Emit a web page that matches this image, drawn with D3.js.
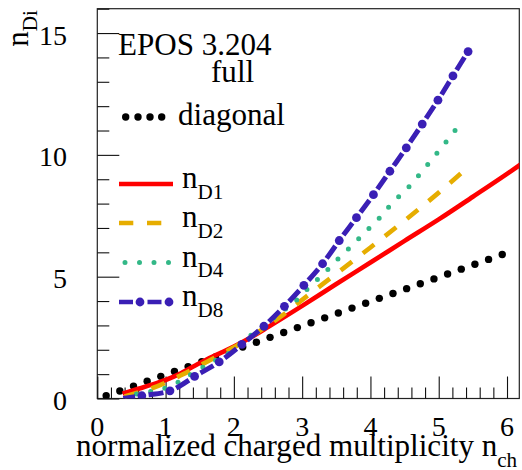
<!DOCTYPE html>
<html>
<head>
<meta charset="utf-8">
<script src="https://cdn.jsdelivr.net/npm/d3@7"></script>
<style>
  html, body { margin: 0; padding: 0; background: #fff; }
  svg { display: block; }
</style>
</head>
<body>
<svg id="chart" width="522" height="470"></svg>
<script>
// Axis ticks
const xMajorTicks = [0, 1, 2, 3, 4, 5, 6];
const yMajorTicks = [0, 5, 10, 15];

// "diagonal" reference points
const diagX = [0.13, 0.33, 0.53, 0.73, 0.93, 1.13, 1.33, 1.53, 1.73, 1.93,
               2.13, 2.33, 2.53, 2.73, 2.93, 3.13, 3.33, 3.53, 3.73, 3.93,
               4.13, 4.33, 4.53, 4.73, 4.93, 5.13, 5.33, 5.53, 5.73, 5.93];
const diagY = [0.11, 0.31, 0.51, 0.71, 0.91, 1.11, 1.31, 1.51, 1.71, 1.91,
               2.11, 2.31, 2.51, 2.71, 2.91, 3.11, 3.31, 3.51, 3.71, 3.91,
               4.11, 4.31, 4.51, 4.71, 4.91, 5.11, 5.31, 5.51, 5.71, 5.91];

// n_D1
const d1X = [0.37, 0.6, 0.8, 1.0, 1.2, 1.4, 1.6, 1.8, 2.0, 2.2, 2.5, 3.0, 3.5, 4.0, 4.5, 5.0, 5.5, 6.0, 6.3];
const d1Y = [0.2, 0.4, 0.57, 0.76, 1.0, 1.3, 1.6, 1.86, 2.13, 2.43, 2.93, 3.8, 4.7, 5.58, 6.47, 7.35, 8.28, 9.22, 9.8];

// n_D2
const d2X = [0.4, 0.6, 0.8, 1.0, 1.2, 1.4, 1.6, 1.8, 2.0, 2.2, 2.5, 2.72, 3.0, 3.5, 4.0, 4.5, 5.0, 5.37];
const d2Y = [0.08, 0.25, 0.42, 0.65, 0.92, 1.2, 1.5, 1.8, 2.1, 2.45, 3.0, 3.43, 4.05, 5.12, 6.2, 7.3, 8.45, 9.35];

// n_D4
const d4X = [0.4, 0.87, 1.08, 1.26, 1.62, 2.0, 2.31, 2.8, 2.96, 3.1, 3.26, 3.41, 3.55, 3.7, 3.85,
             4.0, 4.15, 4.28, 4.43, 4.58, 4.71, 4.84, 4.98, 5.11, 5.24, 5.37];
const d4Y = [0.1, 0.35, 0.51, 0.8, 1.4, 2.0, 2.74, 3.77, 4.15, 4.56, 4.98, 5.39, 5.8, 6.2, 6.62,
             7.04, 7.46, 7.9, 8.33, 8.74, 9.17, 9.61, 10.09, 10.54, 11.0, 11.46];

// n_D8
const d8X = [0.38, 0.67, 1.08, 1.44, 1.8, 2.14, 2.45, 2.75, 3.03, 3.31, 3.55, 3.8,
             4.05, 4.29, 4.53, 4.76, 4.99, 5.21, 5.43];
const d8Y = [0.0, 0.12, 0.33, 0.93, 1.53, 2.27, 2.99, 3.81, 4.66, 5.57, 6.51, 7.44,
             8.39, 9.35, 10.31, 11.27, 12.25, 13.25, 14.24];

const xMax = 6.18, yMax = 16;
const frameL = 97.3, frameR = 519.3, frameT = 8.7, frameB = 398.5;
const serif = "'Liberation Serif', 'Times New Roman', Tinos, 'DejaVu Serif', 'Noto Serif', serif";

const svg = d3.select("#chart").attr("font-family", serif);
const x = d3.scaleLinear().domain([0, xMax]).range([frameL, frameR]);
const y = d3.scaleLinear().domain([0, yMax]).range([frameB, frameT]);

const col = { d1: "#ff0000", d2: "#e6ad00", d4: "#33b887", d8: "#3a1fb5" };

// shrink/grow a text's font size so its main run spans the wanted width
function fit(sel, width) {
  const w = sel.node().getComputedTextLength();
  const f = +sel.attr("font-size");
  const nf = f * width / w;
  sel.attr("font-size", nf);
  return nf / f;
}

// clip region = plotting frame
svg.append("defs").append("clipPath").attr("id", "frame")
  .append("rect").attr("x", frameL).attr("y", frameT)
  .attr("width", frameR - frameL).attr("height", frameB - frameT);

// frame
svg.append("rect").attr("x", frameL).attr("y", frameT)
  .attr("width", frameR - frameL).attr("height", frameB - frameT)
  .attr("fill", "none").attr("stroke", "#222").attr("stroke-width", 1.2);

// ticks drawn inward with d3 axes
const xMinor = d3.range(0, xMax, 0.2).filter(v => Math.abs(v - Math.round(v)) > 1e-6);
const yMinor = d3.range(0, yMax + 0.01, 1).filter(v => v % 5 !== 0);

const axX = svg.append("g").attr("transform", `translate(0,${frameB})`);
axX.append("g").call(d3.axisBottom(x).tickValues(xMinor).tickSize(-11).tickFormat(""));
axX.append("g").call(d3.axisBottom(x).tickValues(xMajorTicks).tickSize(-22).tickFormat(""));
const axY = svg.append("g").attr("transform", `translate(${frameL},0)`);
axY.append("g").call(d3.axisLeft(y).tickValues(yMinor).tickSize(-12).tickFormat(""));
axY.append("g").call(d3.axisLeft(y).tickValues(yMajorTicks).tickSize(-22).tickFormat(""));
svg.selectAll(".domain").remove();
svg.selectAll(".tick line").attr("stroke", "#111").attr("stroke-width", 1.1);

// tick labels (size set so "10" is ~28px wide)
const probe = svg.append("text").attr("font-size", 27).text("10");
const tickSize = 27 * fit(probe, 28);
probe.remove();
svg.append("g").selectAll("text").data(xMajorTicks).join("text")
  .attr("x", d => x(d)).attr("y", 436)
  .attr("text-anchor", "middle").attr("font-size", tickSize).text(d => d);
svg.append("g").selectAll("text").data(yMajorTicks).join("text")
  .attr("x", 67).attr("y", d => y(d) + 11.5)
  .attr("text-anchor", "end").attr("font-size", tickSize).text(d => d);

// common text size: "diagonal" spans ~107px
const probe2 = svg.append("text").attr("font-size", 31).text("diagonal");
const txtSize = 31 * fit(probe2, 107);
probe2.remove();
const subSize = txtSize * 0.68;

// axis titles
const xt = svg.append("text").attr("x", 76).attr("y", 455.5).attr("font-size", txtSize);
xt.append("tspan").text("normalized charged multiplicity n");
xt.append("tspan").attr("dy", 11).attr("font-size", subSize).text("ch");

const yt = svg.append("text").attr("transform", "translate(27.5,10) rotate(-90)")
  .attr("text-anchor", "end").attr("font-size", txtSize);
yt.append("tspan").text("n");
yt.append("tspan").attr("dy", 9).attr("font-size", subSize).text("Di");

// curves
const plot = svg.append("g").attr("clip-path", "url(#frame)");
const line = d3.line().x(d => x(d[0])).y(d => y(d[1])).curve(d3.curveMonotoneX);
const pts = (xs, ys) => xs.map((v, i) => [v, ys[i]]);

// diagonal markers
plot.append("g").selectAll("circle").data(pts(diagX, diagY)).join("circle")
  .attr("cx", d => x(d[0])).attr("cy", d => y(d[1])).attr("r", 3.7).attr("fill", "#000");

plot.append("path").attr("d", line(pts(d1X, d1Y)))
  .attr("fill", "none").attr("stroke", col.d1).attr("stroke-width", 4.6);

plot.append("path").attr("d", line(pts(d2X, d2Y)))
  .attr("fill", "none").attr("stroke", col.d2).attr("stroke-width", 4.6)
  .attr("stroke-dasharray", "14.3 13.7");

// n_D4 dotted: phase chosen so a dot sits on the last point
const dotStep = 14.5;
const d4Path = plot.append("path").attr("d", line(pts(d4X, d4Y)))
  .attr("fill", "none").attr("stroke", col.d4).attr("stroke-width", 5)
  .attr("stroke-linecap", "round").attr("stroke-dasharray", `0 ${dotStep}`);
const len4 = d4Path.node().getTotalLength();
d4Path.attr("stroke-dashoffset", dotStep - (len4 % dotStep));

// n_D8: dash–dot line, dots as circles at fixed arc-length steps
const d8Path = plot.append("path").attr("d", line(pts(d8X, d8Y)))
  .attr("fill", "none").attr("stroke", col.d8).attr("stroke-width", 5);
const period = 28.6, dashLen = 15;
const total = d8Path.node().getTotalLength();
const s = ((total + (period - dashLen) / 2) % period);
d8Path.attr("stroke-dasharray", `${dashLen} ${period - dashLen}`).attr("stroke-dashoffset", -s);
const dots = [];
for (let t = total; t > 2; t -= period) dots.push(d8Path.node().getPointAtLength(t));
plot.append("g").selectAll("circle").data(dots).join("circle")
  .attr("cx", d => d.x).attr("cy", d => d.y).attr("r", 4.4).attr("fill", col.d8);

// legend / annotations
svg.append("text").attr("x", 118).attr("y", 55).attr("font-size", txtSize).text("EPOS 3.204");
svg.append("text").attr("x", 211).attr("y", 82).attr("font-size", txtSize).text("full");

const lg = svg.append("g");
lg.selectAll("circle.dg").data([125.7, 138, 150, 161.7]).join("circle")
  .attr("cx", d => d).attr("cy", 117).attr("r", 3.7).attr("fill", "#000");
lg.append("text").attr("x", 178).attr("y", 125).attr("font-size", txtSize).text("diagonal");

const entries = [
  { key: "d1", sub: "D1", y: 184 },
  { key: "d2", sub: "D2", y: 223 },
  { key: "d4", sub: "D4", y: 262.5 },
  { key: "d8", sub: "D8", y: 302 }
];
entries.forEach(e => {
  const l = lg.append("line").attr("x1", 119).attr("x2", 173).attr("y1", e.y).attr("y2", e.y)
    .attr("stroke", col[e.key]).attr("stroke-width", e.key === "d4" ? 5 : 4.6);
  if (e.key === "d2") l.attr("stroke-dasharray", "14.3 13.7");
  if (e.key === "d4") l.attr("stroke-linecap", "round").attr("stroke-dasharray", `0 ${dotStep}`).attr("stroke-dashoffset", 8.5);
  if (e.key === "d8") {
    l.attr("stroke-dasharray", "14 14.5");
    lg.selectAll(null).data([140, 169]).join("circle")
      .attr("cx", d => d).attr("cy", e.y).attr("r", 4.4).attr("fill", col.d8);
  }
  const t = lg.append("text").attr("x", 182).attr("y", e.y + 4.3).attr("font-size", txtSize);
  t.append("tspan").text("n");
  t.append("tspan").attr("dy", 10.5).attr("font-size", subSize).text(e.sub);
});
</script>
</body>
</html>
